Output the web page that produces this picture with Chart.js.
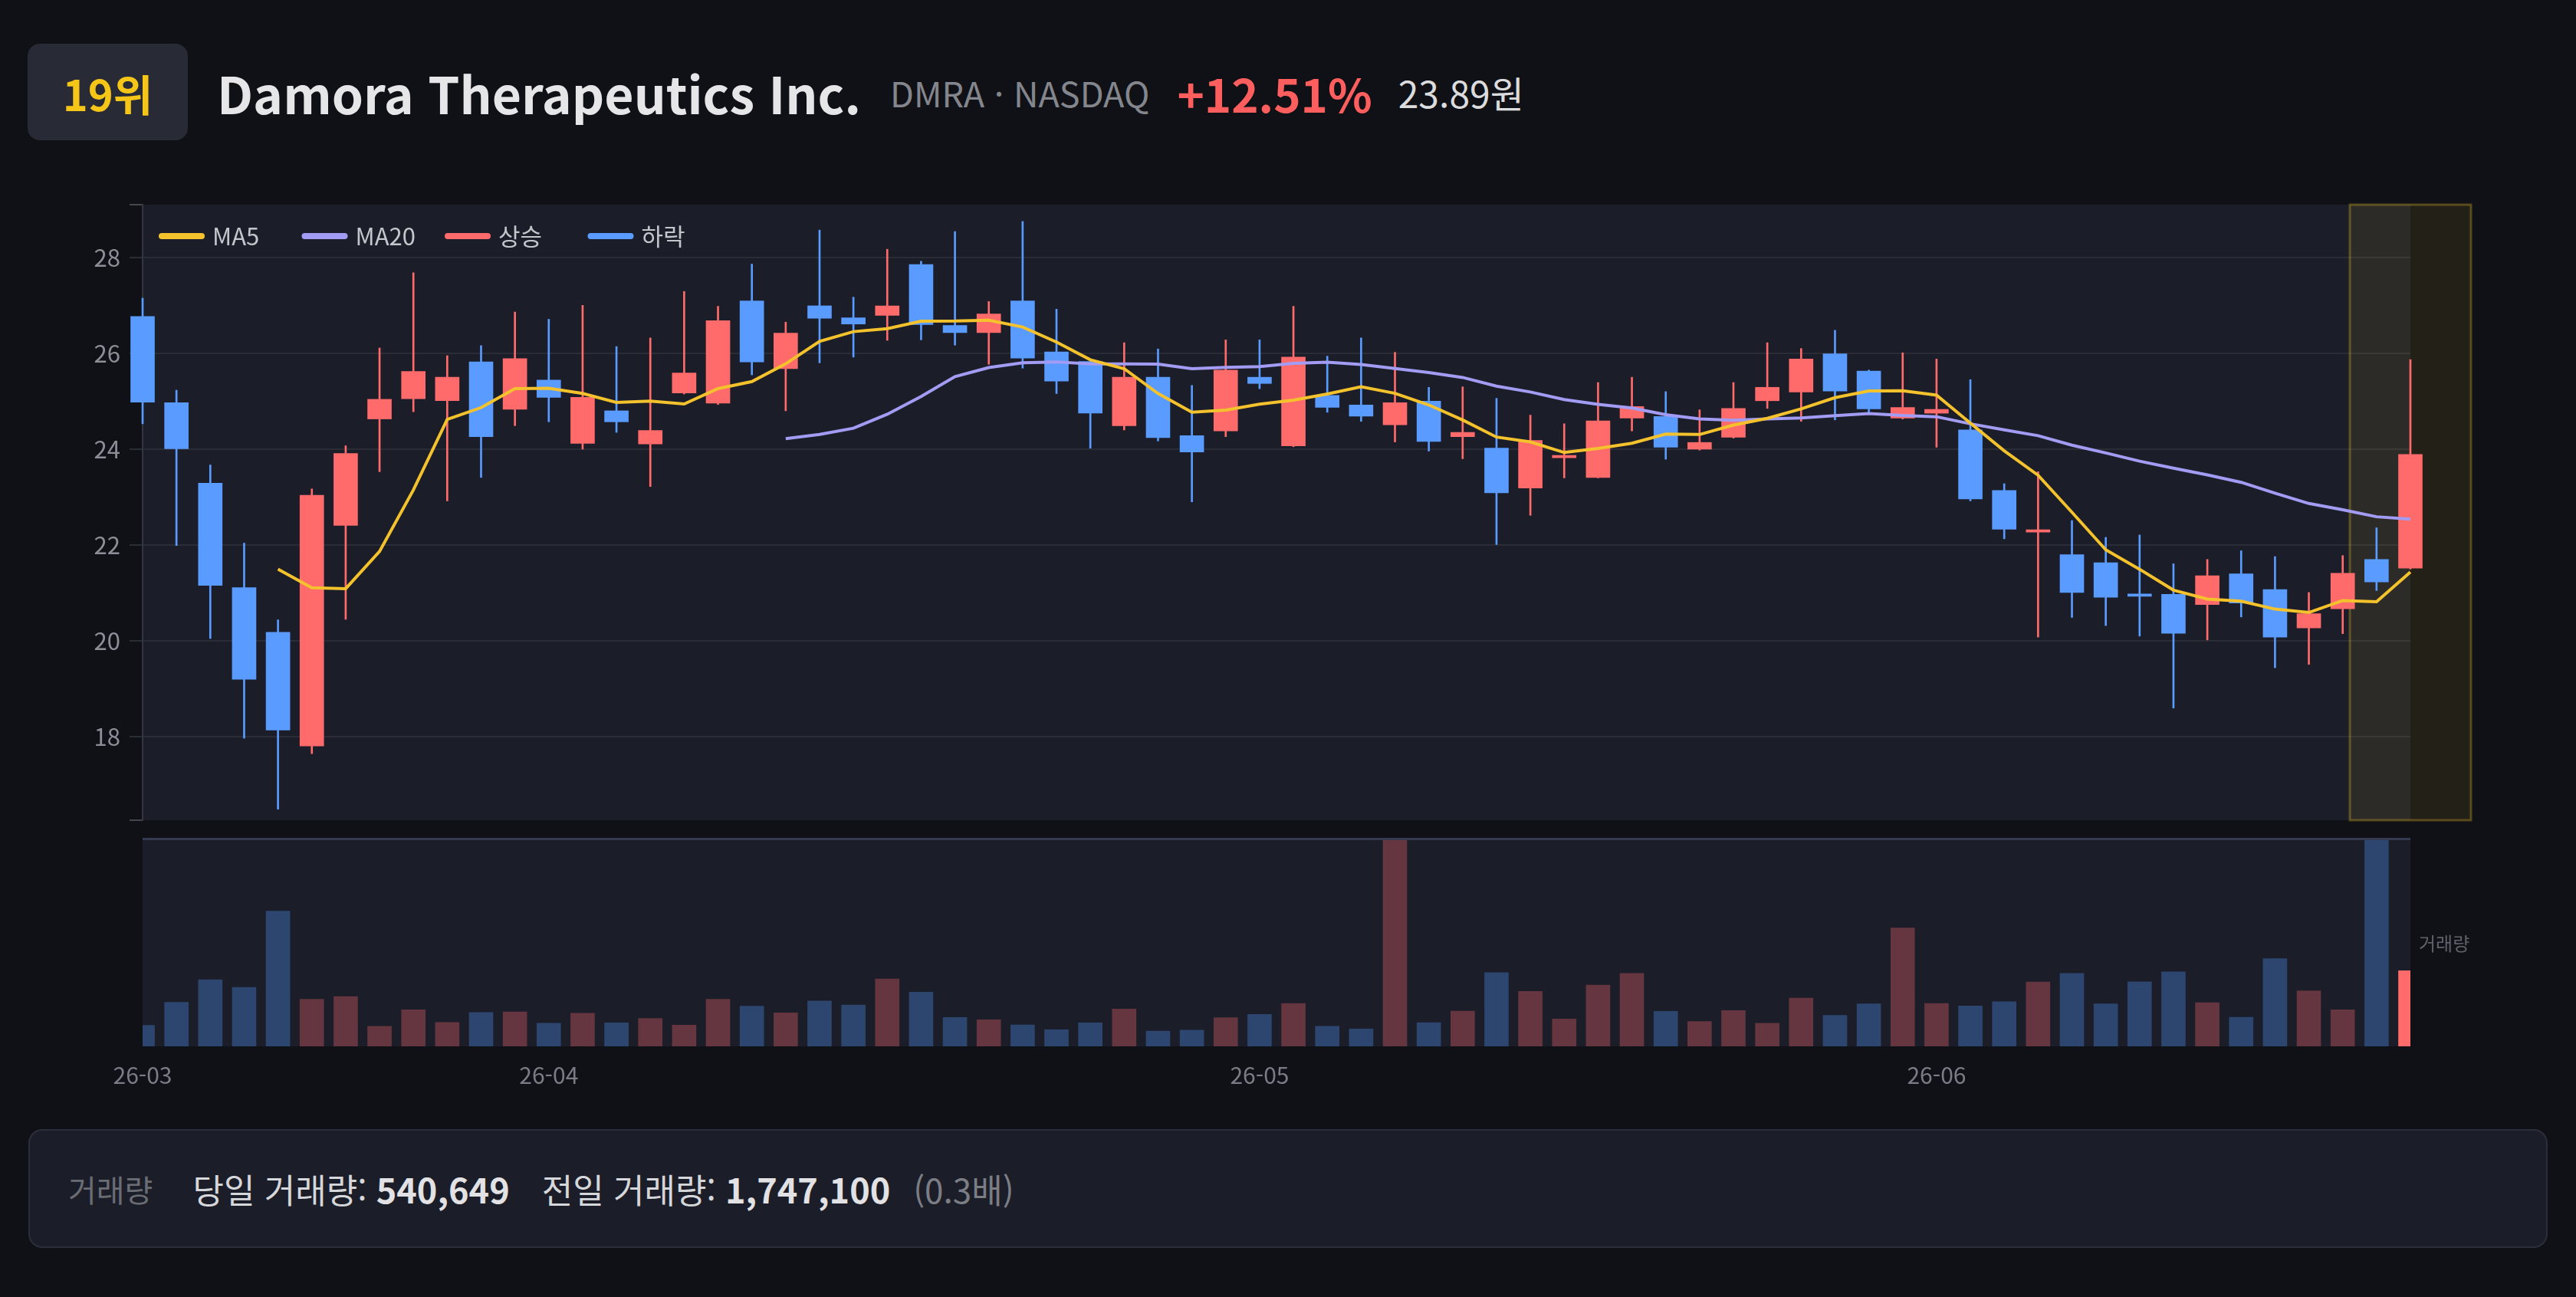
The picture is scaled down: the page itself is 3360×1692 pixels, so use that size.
<!DOCTYPE html>
<html lang="ko">
<head>
<meta charset="utf-8">
<script src="https://cdn.jsdelivr.net/npm/chart.js@4.4.1/dist/chart.umd.min.js"></script>
<style>
  html, body { margin: 0; padding: 0; }
  body {
    width: 3360px; height: 1692px; overflow: hidden; position: relative;
    background: #101116;
    font-family: "Noto Sans CJK KR", "Noto Sans", sans-serif;
  }
  .header { position: absolute; left: 36px; top: 57px; height: 126px; display: flex; align-items: center; }
  .rank {
    width: 209px; height: 126px; border-radius: 16px; background: #282b36;
    color: #f5c518; font-weight: 700; font-size: 56px;
    display: flex; align-items: center; justify-content: center;
  }
  .name { margin-left: 38px; font-size: 66px; font-weight: 700; color: #e6e6e8; }
  .ticker { margin-left: 38px; font-size: 45px; color: #84868d; }
  .chg { margin-left: 36px; font-size: 60px; font-weight: 700; color: #ff5e5e; }
  .price { margin-left: 34px; font-size: 48px; color: #dcdcde; }

  #priceBox { position: absolute; left: 0; top: 250px; width: 3360px; height: 840px; }
  #volBox { position: absolute; left: 0; top: 1090px; width: 3360px; height: 350px; }

  .foot {
    position: absolute; left: 37px; top: 1473px; width: 3286px; height: 155px;
    box-sizing: border-box; border: 2px solid #2c2f3b; border-radius: 18px; background: #1b1d28;
    display: flex; align-items: center; padding-left: 50px; font-size: 44px;
  }
  .foot .lbl { color: #6b6d74; margin-right: 52px; font-size: 40px; }
  .foot .item { color: #d6d7da; margin-right: 42px; }
  .foot .item b { color: #e2e2e4; font-size: 45px; }
  .foot .ratio { color: #7c7e85; margin-left: -12px; }
</style>
</head>
<body>

<div class="header">
  <div class="rank">19위</div>
  <div class="name">Damora Therapeutics Inc.</div>
  <div class="ticker">DMRA · NASDAQ</div>
  <div class="chg">+12.51%</div>
  <div class="price">23.89원</div>
</div>

<div id="priceBox"><canvas id="priceChart"></canvas></div>
<div id="volBox"><canvas id="volChart"></canvas></div>

<div class="foot">
  <span class="lbl">거래량</span>
  <span class="item">당일 거래량: <b id="todayVol"></b></span>
  <span class="item">전일 거래량: <b id="prevVol"></b></span>
  <span class="ratio" id="volRatio"></span>
</div>

<script>
// trading days (YY-MM-DD)
const dates = [
  '26-03-16','26-03-17','26-03-18','26-03-19','26-03-20','26-03-23','26-03-24','26-03-25','26-03-26','26-03-27',
  '26-03-30','26-03-31','26-04-01','26-04-02','26-04-06','26-04-07','26-04-08','26-04-09','26-04-10','26-04-13',
  '26-04-14','26-04-15','26-04-16','26-04-17','26-04-20','26-04-21','26-04-22','26-04-23','26-04-24','26-04-27',
  '26-04-28','26-04-29','26-04-30','26-05-01','26-05-04','26-05-05','26-05-06','26-05-07','26-05-08','26-05-11',
  '26-05-12','26-05-13','26-05-14','26-05-15','26-05-18','26-05-19','26-05-20','26-05-21','26-05-22','26-05-26',
  '26-05-27','26-05-28','26-05-29','26-06-01','26-06-02','26-06-03','26-06-04','26-06-05','26-06-08','26-06-09',
  '26-06-10','26-06-11','26-06-12','26-06-15','26-06-16','26-06-17','26-06-18','26-06-22'
];

const opens = [
  26.77, 24.97, 23.29, 21.11, 20.18, 17.81, 22.41, 24.63, 25.05, 25.01,
  25.82, 24.83, 25.44, 24.12, 24.80, 24.11, 25.17, 24.96, 27.09, 25.68,
  26.99, 26.74, 26.79, 27.85, 26.58, 26.43, 27.09, 26.03, 25.83, 24.49,
  25.50, 24.28, 24.38, 25.50, 24.07, 25.12, 24.92, 24.51, 25.00, 24.26,
  24.02, 23.19, 23.82, 23.41, 24.65, 24.68, 24.00, 24.25, 25.01, 25.19,
  25.99, 25.63, 24.65, 24.75, 24.40, 23.14, 22.27, 21.80, 21.63, 20.95,
  20.97, 20.76, 21.40, 21.07, 20.27, 20.67, 21.70, 21.52
];
const highs = [
  27.15, 25.23, 23.67, 22.04, 20.44, 23.17, 24.07, 26.11, 27.68, 25.95,
  26.16, 26.86, 26.71, 27.00, 26.14, 26.32, 27.29, 26.98, 27.86, 26.65,
  28.57, 27.17, 28.17, 27.92, 28.54, 27.08, 28.75, 26.92, 25.83, 26.22,
  26.09, 25.33, 26.28, 26.28, 26.98, 25.94, 26.32, 26.02, 25.29, 25.30,
  25.06, 24.71, 24.53, 25.39, 25.50, 25.20, 24.82, 25.39, 26.22, 26.10,
  26.48, 25.65, 26.01, 25.88, 25.45, 23.28, 23.53, 22.51, 22.16, 22.21,
  21.61, 21.70, 21.88, 21.76, 21.01, 21.78, 22.36, 25.87
];
const lows = [
  24.53, 21.99, 20.05, 17.97, 16.49, 17.65, 20.45, 23.53, 24.78, 22.92,
  23.41, 24.49, 24.57, 24.00, 24.35, 23.22, 25.15, 24.93, 25.55, 24.80,
  25.80, 25.92, 26.27, 26.28, 26.17, 25.77, 25.69, 25.16, 24.02, 24.40,
  24.17, 22.90, 24.26, 25.26, 24.05, 24.77, 24.58, 24.15, 23.96, 23.80,
  22.01, 22.62, 23.40, 23.40, 24.38, 23.79, 23.98, 24.23, 24.85, 24.58,
  24.61, 24.73, 24.63, 24.04, 22.92, 22.13, 20.08, 20.49, 20.32, 20.10,
  18.60, 20.02, 20.50, 19.44, 19.51, 20.15, 21.05, 21.50
];
const closes = [
  24.98, 24.01, 21.16, 19.20, 18.14, 23.04, 23.91, 25.04, 25.62, 25.50,
  24.26, 25.89, 25.08, 25.08, 24.57, 24.39, 25.59, 26.68, 25.82, 26.42,
  26.73, 26.61, 26.99, 26.60, 26.43, 26.82, 25.90, 25.42, 24.75, 25.50,
  24.24, 23.94, 25.65, 25.37, 25.92, 24.87, 24.69, 24.97, 24.16, 24.35,
  23.09, 24.18, 23.87, 24.59, 24.89, 24.04, 24.14, 24.85, 25.29, 25.88,
  25.21, 24.84, 24.87, 24.83, 22.96, 22.33, 22.29, 21.01, 20.91, 20.93,
  20.16, 21.36, 20.79, 20.08, 20.57, 21.41, 21.23, 23.89
];
const volumes = [
  150000, 314000, 476000, 421000, 966000, 337000, 356000, 143000, 261000, 171000,
  242000, 246000, 165000, 237000, 168000, 200000, 152000, 337000, 287000, 239000,
  324000, 295000, 482000, 387000, 206000, 190000, 153000, 119000, 168000, 267000,
  109000, 116000, 205000, 228000, 306000, 143000, 124000, 2100000, 169000, 252000,
  526000, 392000, 196000, 437000, 521000, 250000, 178000, 255000, 165000, 345000,
  222000, 303000, 845000, 306000, 289000, 318000, 460000, 521000, 303000, 461000,
  532000, 312000, 208000, 627000, 396000, 261000, 1747100, 540649
];

// y axis tick labels
const priceTicks = [18, 20, 22, 24, 26, 28];
const priceMin = 16.26;
const priceMax = 29.1;
const volumeMax = 1473000;

const UP = '#ff6b6b';
const DOWN = '#5a9bff';
const UP_VOL = '#65363f';
const DOWN_VOL = '#2d4670';

Chart.defaults.font.family = '"Noto Sans CJK KR", "Noto Sans", sans-serif';

function movingAverage(values, n) {
  return values.map((v, i) => {
    if (i < n - 1) return null;
    let s = 0;
    for (let k = i - n + 1; k <= i; k++) s += values[k];
    return s / n;
  });
}

const isUp = closes.map((c, i) => c >= opens[i]);
const last = closes.length - 1;

function monthTick(value, index) {
  const d = dates[index];
  if (index === 0 || d.slice(0, 5) !== dates[index - 1].slice(0, 5)) return d.slice(0, 5);
  return '';
}

// plot background
const plotBg = {
  id: 'plotBg',
  beforeDraw(chart) {
    const { ctx, chartArea: a } = chart;
    ctx.save();
    ctx.fillStyle = '#1b1d28';
    ctx.fillRect(a.left, a.top, a.right - a.left, a.bottom - a.top);
    ctx.restore();
  }
};

// highlight around the latest candle
const lastBand = {
  id: 'lastBand',
  beforeDatasetsDraw(chart) {
    const { ctx, chartArea: a, scales } = chart;
    const cx = scales.x.getPixelForValue(last);
    ctx.save();
    ctx.fillStyle = 'rgba(240, 200, 40, 0.085)';
    ctx.fillRect(cx - 79, a.top, 158, a.bottom - a.top);
    ctx.strokeStyle = 'rgba(240, 200, 40, 0.3)';
    ctx.lineWidth = 3;
    ctx.strokeRect(cx - 79, a.top, 158, a.bottom - a.top);
    ctx.restore();
  }
};

// legend inside the plot
const innerLegend = {
  id: 'innerLegend',
  afterDraw(chart) {
    const { ctx, chartArea: a } = chart;
    ctx.save();
    ctx.font = '31px "Noto Sans CJK KR"';
    ctx.textBaseline = 'middle';
    chart.data.datasets.filter(ds => ds.inLegend).forEach((ds, k) => {
      const x = a.left + 21 + k * 186.5;
      const y = a.top + 41;
      ctx.fillStyle = ds.legendColor;
      ctx.beginPath();
      ctx.roundRect(x, y - 4, 60, 8, 4);
      ctx.fill();
      ctx.fillStyle = '#c4c6cc';
      ctx.fillText(ds.label, x + 70, y);
    });
    ctx.restore();
  }
};

const priceChart = new Chart(document.getElementById('priceChart'), {
  type: 'bar',
  data: {
    labels: dates,
    datasets: [
      {
        type: 'line', label: 'MA5', inLegend: true, legendColor: '#f3c22c',
        data: movingAverage(closes, 5),
        borderColor: '#f3c22c', borderWidth: 4, pointRadius: 0, tension: 0, order: 0
      },
      {
        type: 'line', label: 'MA20', inLegend: true, legendColor: '#a39cf4',
        data: movingAverage(closes, 20),
        borderColor: '#a39cf4', borderWidth: 4, pointRadius: 0, tension: 0, order: 1
      },
      {
        label: '상승', inLegend: true, legendColor: UP,
        data: opens.map((o, i) => isUp[i] ? [o, closes[i]] : null),
        backgroundColor: UP, barThickness: 31, minBarLength: 3, grouped: false, clip: false, order: 2
      },
      {
        label: '하락', inLegend: true, legendColor: DOWN,
        data: opens.map((o, i) => !isUp[i] ? [o, closes[i]] : null),
        backgroundColor: DOWN, barThickness: 31, minBarLength: 3, grouped: false, clip: false, order: 2
      },
      {
        label: 'wick',
        data: lows.map((l, i) => [l, highs[i]]),
        backgroundColor: isUp.map(u => u ? UP : DOWN),
        barThickness: 2, grouped: false, clip: false, order: 3
      }
    ]
  },
  options: {
    responsive: true,
    maintainAspectRatio: false,
    devicePixelRatio: 1,
    animation: false,
    events: [],
    layout: { padding: { left: 100, right: 216, top: 17, bottom: 20 } },
    plugins: { legend: { display: false }, tooltip: { enabled: false } },
    scales: {
      x: { type: 'category', offset: false, display: false },
      y: {
        min: priceMin,
        max: priceMax,
        afterBuildTicks(axis) {
          axis.ticks = [priceMin, ...priceTicks, priceMax].map(v => ({ value: v }));
        },
        afterFit(axis) {
          axis.width = 86;
          axis.paddingTop = 0;
          axis.paddingBottom = 0;
        },
        ticks: {
          color: '#8c8f98',
          font: { size: 31 },
          padding: 12,
          callback: v => priceTicks.includes(v) ? String(v) : ''
        },
        grid: {
          lineWidth: 2,
          tickLength: 17,
          color: c => (c.tick && (c.tick.value === priceMin || c.tick.value === priceMax)) ? 'rgba(0,0,0,0)' : '#2a2c36',
          tickColor: c => (c.tick && (c.tick.value === priceMin || c.tick.value === priceMax)) ? '#45474f' : '#2a2c36'
        },
        border: { color: '#34363f', width: 2 }
      }
    }
  },
  plugins: [plotBg, lastBand, innerLegend]
});

// volume panel
const volTopLine = {
  id: 'volTopLine',
  afterDraw(chart) {
    const { ctx, chartArea: a } = chart;
    ctx.save();
    ctx.fillStyle = '#363a50';
    ctx.fillRect(a.left, a.top - 3, a.right - a.left, 3);
    ctx.fillStyle = '#5f626a';
    ctx.font = '24px "Noto Sans CJK KR"';
    ctx.textBaseline = 'middle';
    ctx.textAlign = 'left';
    ctx.fillText('거래량', a.right + 11, (a.top + a.bottom) / 2);
    ctx.restore();
  }
};

const volChart = new Chart(document.getElementById('volChart'), {
  type: 'bar',
  data: {
    labels: dates,
    datasets: [{
      label: '거래량',
      data: volumes,
      backgroundColor: volumes.map((v, i) => i === last ? UP : (isUp[i] ? UP_VOL : DOWN_VOL)),
      barThickness: 31
    }]
  },
  options: {
    responsive: true,
    maintainAspectRatio: false,
    devicePixelRatio: 1,
    animation: false,
    events: [],
    layout: { padding: { left: 186, right: 216, top: 6, bottom: 15 } },
    plugins: { legend: { display: false }, tooltip: { enabled: false } },
    scales: {
      x: {
        type: 'category',
        offset: false,
        grid: { display: false, drawTicks: false },
        border: { display: false },
        afterFit(axis) { axis.height = 60; },
        ticks: {
          autoSkip: false, maxRotation: 0, padding: 20,
          color: '#7a7d86', font: { size: 30 },
          callback: monthTick
        }
      },
      y: { display: false, min: 0, max: volumeMax }
    }
  },
  plugins: [plotBg, volTopLine]
});

// footer numbers from the volume series
document.getElementById('todayVol').textContent = volumes[last].toLocaleString('en-US');
document.getElementById('prevVol').textContent = volumes[last - 1].toLocaleString('en-US');
document.getElementById('volRatio').textContent = '(' + (volumes[last] / volumes[last - 1]).toFixed(1) + '배)';
</script>
</body>
</html>
